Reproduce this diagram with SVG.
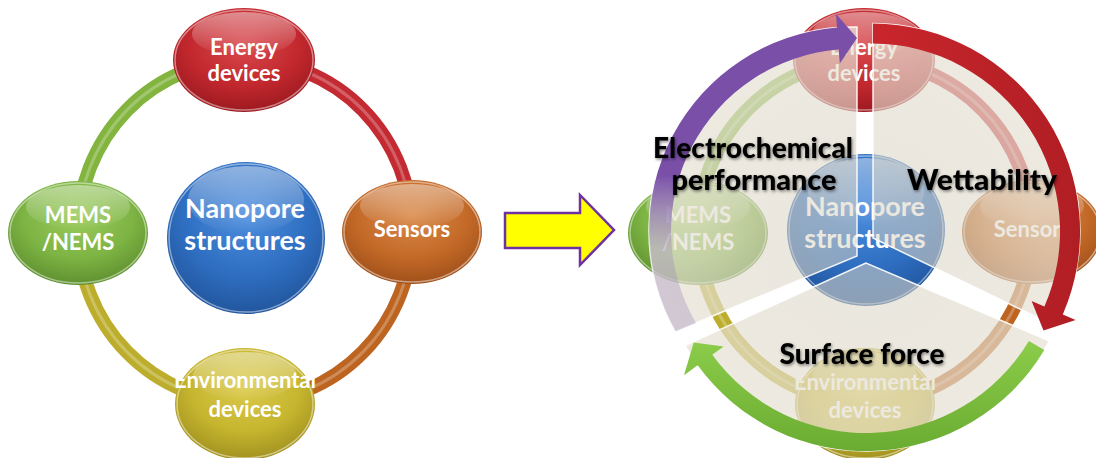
<svg xmlns="http://www.w3.org/2000/svg" width="1096" height="458" viewBox="0 0 1096 458">
<defs>
<style>
.nt{font-family:Lato,"Liberation Sans",sans-serif;font-weight:bold;fill:#fff;text-anchor:middle}
.n20{font-size:22px}
.n26{font-size:27px}
.lbl{font-family:Lato,"Liberation Sans",sans-serif;font-weight:900;font-size:28px;fill:#000;text-anchor:middle;filter:url(#sh)}
.ring{fill:none;stroke-width:14}
.hl{fill:none;stroke:#fff;stroke-width:3;stroke-opacity:.25}
.rim{fill:none;stroke:#fff;stroke-width:1.5;stroke-opacity:.45}
.gloss{fill:url(#gloss)}
.sector{fill:url(#secG);stroke:#fff;stroke-width:1.5;stroke-opacity:.9}
</style>
<radialGradient id="gRed" cx="50%" cy="35%" r="65%"><stop offset="0" stop-color="#d94a4e"/><stop offset=".6" stop-color="#c2282e"/><stop offset="1" stop-color="#9c1a20"/></radialGradient>
<radialGradient id="gOrg" cx="50%" cy="35%" r="65%"><stop offset="0" stop-color="#d98a4a"/><stop offset=".6" stop-color="#c46a28"/><stop offset="1" stop-color="#a0501a"/></radialGradient>
<radialGradient id="gGrn" cx="50%" cy="35%" r="65%"><stop offset="0" stop-color="#9ccb5e"/><stop offset=".6" stop-color="#7db443"/><stop offset="1" stop-color="#5f9030"/></radialGradient>
<radialGradient id="gOli" cx="50%" cy="35%" r="65%"><stop offset="0" stop-color="#dccb4e"/><stop offset=".6" stop-color="#c6b52e"/><stop offset="1" stop-color="#a29220"/></radialGradient>
<radialGradient id="gBlu" cx="50%" cy="35%" r="65%"><stop offset="0" stop-color="#4d8ede"/><stop offset=".6" stop-color="#2f6fc2"/><stop offset="1" stop-color="#22569e"/></radialGradient>
<linearGradient id="gloss" x1="0" y1="0" x2="0" y2="1"><stop offset="0" stop-color="#fff" stop-opacity=".45"/><stop offset="1" stop-color="#fff" stop-opacity="0"/></linearGradient>
<radialGradient id="secG" gradientUnits="userSpaceOnUse" cx="866" cy="240" r="215"><stop offset="0" stop-color="#d6d0c0" stop-opacity=".5"/><stop offset="1" stop-color="#e8e3d6" stop-opacity=".74"/></radialGradient>
<linearGradient id="gPur" gradientUnits="userSpaceOnUse" x1="0" y1="175" x2="0" y2="250"><stop offset="0" stop-color="#7a4fa8"/><stop offset="1" stop-color="#9a88b8" stop-opacity=".35"/></linearGradient>
<linearGradient id="gRedA" x1="0" y1="0" x2="1" y2="0"><stop offset="0" stop-color="#c8262c"/><stop offset="1" stop-color="#b01e24"/></linearGradient>
<linearGradient id="gGrnA" x1="0" y1="0" x2="0" y2="1"><stop offset="0" stop-color="#8ccc4a"/><stop offset="1" stop-color="#6aac32"/></linearGradient>
<filter id="sh" x="-10%" y="-30%" width="120%" height="160%"><feDropShadow dx="1" dy="1.5" stdDeviation="1.6" flood-color="#000" flood-opacity=".5"/></filter>
</defs>

<rect width="1096" height="458" fill="#fff"/>

<!-- Left cycle -->
<g id="left-cycle">
  <g id="left-ring">
    <path class="ring" stroke="#c42a32" d="M245,60 A167 171 0 0 1 412,231"/>
    <path class="ring" stroke="#bd6420" d="M412,231 A167 171 0 0 1 245,402"/>
    <path class="ring" stroke="#bcae2c" d="M245,402 A167 171 0 0 1 78,231"/>
    <path class="ring" stroke="#82b43e" d="M78,231 A167 171 0 0 1 245,60"/>
    <ellipse class="hl" cx="245" cy="231" rx="167" ry="171"/>
  </g>
  <g id="energy-l">
    <ellipse cx="244" cy="60" rx="71" ry="52" fill="url(#gRed)"/>
    <ellipse class="rim" cx="244" cy="60" rx="69" ry="50"/>
    <ellipse class="gloss" cx="244" cy="34" rx="52" ry="22"/>
    <text class="nt n20" x="244" y="55">Energy</text>
    <text class="nt n20" x="244" y="81">devices</text>
  </g>
  <g id="mems-l">
    <ellipse cx="78" cy="233" rx="70" ry="52" fill="url(#gGrn)"/>
    <ellipse class="rim" cx="78" cy="233" rx="68" ry="50"/>
    <ellipse class="gloss" cx="78" cy="207" rx="52" ry="22"/>
    <text class="nt n20" x="78" y="223">MEMS</text>
    <text class="nt n20" x="78" y="250">/NEMS</text>
  </g>
  <g id="sensors-l">
    <ellipse cx="412" cy="232" rx="70" ry="52" fill="url(#gOrg)"/>
    <ellipse class="rim" cx="412" cy="232" rx="68" ry="50"/>
    <ellipse class="gloss" cx="412" cy="206" rx="52" ry="22"/>
    <text class="nt n20" x="412" y="237">Sensors</text>
  </g>
  <g id="environmental-l">
    <ellipse cx="245" cy="404" rx="70" ry="56" fill="url(#gOli)"/>
    <ellipse class="rim" cx="245" cy="404" rx="68" ry="54"/>
    <ellipse class="gloss" cx="245" cy="376" rx="52" ry="24"/>
    <text class="nt n20" x="245" y="388">Environmental</text>
    <text class="nt n20" x="245" y="417">devices</text>
  </g>
  <g id="nanopore-l">
    <ellipse cx="246" cy="238" rx="79" ry="76" fill="url(#gBlu)"/>
    <ellipse class="rim" cx="246" cy="238" rx="77" ry="74"/>
    <ellipse class="gloss" cx="246" cy="200" rx="58" ry="34"/>
    <text class="nt n26" x="245" y="218">Nanopore</text>
    <text class="nt n26" x="245" y="250">structures</text>
  </g>
</g>

<!-- Block arrow -->
<g id="transition-arrow">
  <polygon points="505,213 580,213 580,195 614,230 580,265 580,248 505,248" fill="#ffff00" stroke="#7030a0" stroke-width="2.5" stroke-linejoin="miter"/>
</g>

<!-- Right cycle (same diagram, shifted) -->
<g id="right-cycle" transform="translate(620,0)">
  <g id="right-ring">
    <path class="ring" stroke="#c42a32" d="M245,60 A167 171 0 0 1 412,231"/>
    <path class="ring" stroke="#bd6420" d="M412,231 A167 171 0 0 1 245,402"/>
    <path class="ring" stroke="#bcae2c" d="M245,402 A167 171 0 0 1 78,231"/>
    <path class="ring" stroke="#82b43e" d="M78,231 A167 171 0 0 1 245,60"/>
    <ellipse class="hl" cx="245" cy="231" rx="167" ry="171"/>
  </g>
  <g id="energy-r">
    <ellipse cx="244" cy="60" rx="71" ry="52" fill="url(#gRed)"/>
    <ellipse class="rim" cx="244" cy="60" rx="69" ry="50"/>
    <ellipse class="gloss" cx="244" cy="34" rx="52" ry="22"/>
    <text class="nt n20" x="244" y="55">Energy</text>
    <text class="nt n20" x="244" y="81">devices</text>
  </g>
  <g id="mems-r">
    <ellipse cx="78" cy="233" rx="70" ry="52" fill="url(#gGrn)"/>
    <ellipse class="rim" cx="78" cy="233" rx="68" ry="50"/>
    <ellipse class="gloss" cx="78" cy="207" rx="52" ry="22"/>
    <text class="nt n20" x="78" y="223">MEMS</text>
    <text class="nt n20" x="78" y="250">/NEMS</text>
  </g>
  <g id="sensors-r">
    <ellipse cx="412" cy="232" rx="70" ry="52" fill="url(#gOrg)"/>
    <ellipse class="rim" cx="412" cy="232" rx="68" ry="50"/>
    <ellipse class="gloss" cx="412" cy="206" rx="52" ry="22"/>
    <text class="nt n20" x="412" y="237">Sensors</text>
  </g>
  <g id="environmental-r">
    <ellipse cx="245" cy="404" rx="70" ry="56" fill="url(#gOli)"/>
    <ellipse class="rim" cx="245" cy="404" rx="68" ry="54"/>
    <ellipse class="gloss" cx="245" cy="376" rx="52" ry="24"/>
    <text class="nt n20" x="245" y="390">Environmental</text>
    <text class="nt n20" x="245" y="418">devices</text>
  </g>
  <g id="nanopore-r">
    <ellipse cx="246" cy="230" rx="79" ry="76" fill="url(#gBlu)"/>
    <ellipse class="rim" cx="246" cy="230" rx="77" ry="74"/>
    <ellipse class="gloss" cx="246" cy="192" rx="58" ry="34"/>
    <text class="nt n26" x="245" y="216">Nanopore</text>
    <text class="nt n26" x="245" y="248">structures</text>
  </g>
</g>

<!-- Segmented overlay -->
<g id="sectors">
  <path id="sector-electrochemical" class="sector" d="M857,256 L857,27 A204 204 0 0 0 675.5,331.5 Z"/>
  <path id="sector-wettability" class="sector" d="M873,238 L873,23.5 A208 208 0 0 1 1056.8,326.8 Z"/>
  <path id="sector-surface" class="sector" d="M866,263 L685,345.5 A208 208 0 0 0 1049.4,341 Z"/>
</g>

<!-- Cycle arrows -->
<g id="connectors">
  <path id="arrow-purple" fill="url(#gPur)" d="M675.5,331.5 A204 204 0 0 1 837,27.6 L835.9,13.7 L857,38 L839.8,63.5 L838.7,49.6 A182 182 0 0 0 696,323 Z"/>
  <path id="arrow-red" fill="url(#gRedA)" d="M873,23.5 A208 208 0 0 1 1062.8,314.4 L1075.6,320 L1043.5,330.5 L1031.6,300.9 L1044.4,306.5 A188 188 0 0 0 873,43.5 Z"/>
  <path id="arrow-green" fill="url(#gGrnA)" d="M1044.3,350.1 A208 208 0 0 1 697.7,365.3 L684,375.3 L693.7,342.5 L723.6,346.5 L712.3,354.7 A190 190 0 0 0 1028.9,340.9 Z"/>
</g>

<!-- Labels -->
<g id="labels">
  <text class="lbl" x="753" y="158" textLength="200" lengthAdjust="spacingAndGlyphs">Electrochemical</text>
  <text class="lbl" x="754" y="190" textLength="165" lengthAdjust="spacingAndGlyphs">performance</text>
  <text class="lbl" x="982" y="190" textLength="150" lengthAdjust="spacingAndGlyphs">Wettability</text>
  <text class="lbl" x="862" y="364" textLength="165" lengthAdjust="spacingAndGlyphs">Surface force</text>
</g>
</svg>
